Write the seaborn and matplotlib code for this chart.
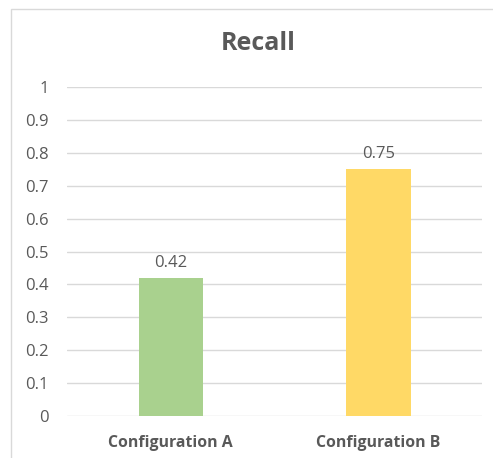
import matplotlib
matplotlib.use("Agg")
import matplotlib.pyplot as plt
import seaborn as sns
from matplotlib.patches import Rectangle

# chart data
categories = ["Configuration A", "Configuration B"]
recall = [0.42, 0.75]
bar_colors = ["#A9D18E", "#FFD966"]
yticks = [0, 0.1, 0.2, 0.3, 0.4, 0.5, 0.6, 0.7, 0.8, 0.9, 1]
ytick_labels = ["0", "0.1", "0.2", "0.3", "0.4", "0.5", "0.6", "0.7", "0.8", "0.9", "1"]

sns.set_style("white")
plt.rcParams["font.family"] = ["Open Sans", "DejaVu Sans"]
text_color = "#595959"

fig = plt.figure(figsize=(4.93, 4.58), dpi=100)
ax = fig.add_axes([0.136, 0.0917, 0.842, 0.718])

sns.barplot(x=categories, y=recall, hue=categories, palette=bar_colors,
            saturation=1, width=0.31, linewidth=0, legend=False, ax=ax, zorder=3)

ax.set_ylim(0, 1)
ax.set_yticks(yticks)
ax.set_yticklabels(ytick_labels)
ax.yaxis.grid(True, color="#D9D9D9", linewidth=1, zorder=0)
ax.set_axisbelow(True)
for s in ax.spines.values():
    s.set_visible(False)
ax.tick_params(axis="y", length=0, pad=13, labelsize=12, labelcolor=text_color)
ax.tick_params(axis="x", length=0, pad=14, labelsize=11.4, labelcolor=text_color)
for lbl in ax.get_xticklabels():
    lbl.set_fontweight("bold")
ax.set_xlabel("")
ax.set_ylabel("")

# data labels
for i, v in enumerate(recall):
    ax.annotate(f"{v:.2f}", (i, v), xytext=(0, 5), textcoords="offset points",
                ha="center", va="bottom", fontsize=12, color=text_color)

fig.text(0.523, 0.905, "Recall", ha="center", va="center", fontsize=18,
         fontweight="bold", color=text_color)

# chart border
fig.patches.append(Rectangle((10.5 / 493, -0.1), 1.0, 1.1 - 8.5 / 458,
                             transform=fig.transFigure, fill=False,
                             edgecolor="#D9D9D9", linewidth=1))

fig.savefig("out.png", dpi=100, facecolor="white")
